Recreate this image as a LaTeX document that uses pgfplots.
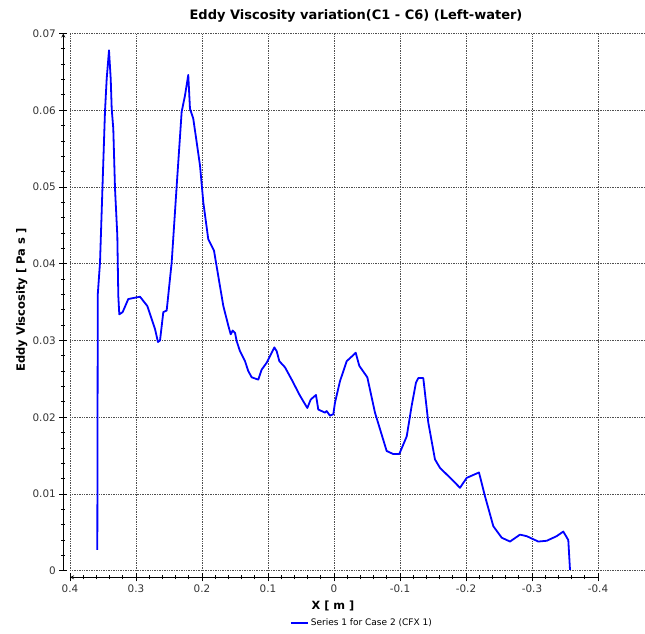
\documentclass[border=0pt]{standalone}
\usepackage{pgfplots}
\pgfplotsset{compat=1.18}
\usepackage{fontspec}
\setmainfont{DejaVu Sans}
\definecolor{ticklab}{HTML}{333333}
\definecolor{gridc}{HTML}{505050}
\pgfplotstableread{
x y
0.3586 0.0027
0.3579 0.0360
0.3545 0.0402
0.3505 0.0507
0.3470 0.0598
0.3444 0.0641
0.3409 0.0678
0.3383 0.0641
0.3368 0.0602
0.3344 0.0576
0.3318 0.0498
0.3283 0.0437
0.3268 0.0358
0.3253 0.0334
0.3202 0.0337
0.3117 0.0354
0.2939 0.0357
0.2829 0.0345
0.2712 0.0315
0.2667 0.0298
0.2636 0.0300
0.2586 0.0337
0.2535 0.0339
0.2459 0.0402
0.2383 0.0502
0.2308 0.0598
0.2258 0.0619
0.2208 0.0646
0.2182 0.0602
0.2132 0.0589
0.2030 0.0528
0.1980 0.0480
0.1905 0.0432
0.1818 0.0417
0.1677 0.0345
0.1600 0.0319
0.1565 0.0308
0.1535 0.0313
0.1500 0.0310
0.1474 0.0299
0.1424 0.0286
0.1348 0.0273
0.1298 0.0260
0.1247 0.0252
0.1147 0.0249
0.1096 0.0262
0.1020 0.0271
0.0944 0.0284
0.0904 0.0291
0.0868 0.0286
0.0828 0.0273
0.0742 0.0265
0.0641 0.0249
0.0515 0.0228
0.0404 0.0212
0.0353 0.0223
0.0273 0.0229
0.0238 0.0210
0.0136 0.0206
0.0111 0.0208
0.0061 0.0202
0.0010 0.0204
-0.0015 0.0219
-0.0091 0.0247
-0.0192 0.0273
-0.0268 0.0279
-0.0329 0.0284
-0.0383 0.0267
-0.0505 0.0252
-0.0621 0.0206
-0.0798 0.0156
-0.0898 0.0152
-0.0989 0.0152
-0.1102 0.0175
-0.1177 0.0215
-0.1242 0.0245
-0.1277 0.0251
-0.1353 0.0251
-0.1429 0.0193
-0.1530 0.0145
-0.1606 0.0134
-0.1808 0.0117
-0.1909 0.0108
-0.2011 0.0121
-0.2197 0.0128
-0.2288 0.0097
-0.2414 0.0058
-0.2541 0.0043
-0.2667 0.0038
-0.2818 0.0047
-0.2920 0.0045
-0.3095 0.0038
-0.3223 0.0039
-0.3374 0.0045
-0.3474 0.0051
-0.3550 0.0040
-0.3576 0.0001
}\series
\pgfplotsset{
  common/.style={
    scale only axis, width=528pt, height=537.2pt,
    xmin=-0.4, xmax=0.4, ymin=0, ymax=0.07,
    x dir=reverse, anchor=south west,
    xtick={-0.4,-0.3,-0.2,-0.1,0,0.1,0.2,0.3,0.4},
    ytick={0,0.01,0.02,0.03,0.04,0.05,0.06,0.07},
    scaled ticks=false,
    /pgf/number format/assume math mode=true,
    tick label style={font=\fontsize{10.4}{11}\selectfont, text=ticklab},
  },
  axisonly/.style={
    common,
    every outer x axis line/.style={-},
    every outer y axis line/.style={-},
    every inner x axis line/.style={-},
    every inner y axis line/.style={-},
    axis line style={-, black, line width=0.8pt},
    x axis line style={-}, y axis line style={-},
    tick align=outside,
    major tick length=8pt, minor tick length=4pt,
    tick style={black, line width=0.8pt},
  },
}
\begin{document}
\begin{tikzpicture}
\useasboundingbox (0,0) rectangle (645pt,633pt);
% data, grid, labels, legend
\begin{axis}[
  common,
  at={(70pt,62.3pt)},
  axis line style={draw=none},
  major tick length=0pt,
  xticklabels={}, yticklabels={},
  xmajorgrids, ymajorgrids,
  major grid style={gridc, line width=0.7pt, densely dotted},
  xlabel={X [ m ]},
  xlabel style={font=\bfseries\fontsize{11.3}{12}\selectfont, at={(axis description cs:0.498,-0.0657)}, anchor=center},
  ylabel={Eddy Viscosity [ Pa s ]},
  ylabel style={font=\bfseries\fontsize{11.5}{12}\selectfont, at={(axis description cs:-0.0915,0.504)}, anchor=center},
  legend style={at={(axis description cs:0.4167,-0.0974)}, anchor=west, draw=none, fill=none,
    font=\fontsize{9}{10}\selectfont, inner sep=0pt, outer sep=0pt},
  legend cell align=left,
  legend image code/.code={\draw[#1] (0pt,0pt) -- (17pt,0pt);},
]
\addplot[blue, line width=1.8pt, line join=round] table[x=x,y=y] {\series};
\addlegendentry{Series 1 for Case 2 (CFX 1)}
\end{axis}
% x axis line, shifted down
\begin{axis}[
  axisonly,
  at={(70pt,55.7pt)},
  axis x line=bottom, axis y line=none,
  xticklabels={-0.4,-0.3,-0.2,-0.1,0,0.1,0.2,0.3,0.4},
  minor xtick={-0.38,-0.36,-0.34,-0.32,-0.28,-0.26,-0.24,-0.22,-0.18,-0.16,-0.14,-0.12,-0.08,-0.06,-0.04,-0.02,0.02,0.04,0.06,0.08,0.12,0.14,0.16,0.18,0.22,0.24,0.26,0.28,0.32,0.34,0.36,0.38},
]
\end{axis}
% y axis line, shifted left
\begin{axis}[
  axisonly,
  at={(63.3pt,62.3pt)},
  axis y line=left, axis x line=none,
  yticklabels={0,0.01,0.02,0.03,0.04,0.05,0.06,0.07},
  minor ytick={0.002,0.004,0.006,0.008,0.012,0.014,0.016,0.018,0.022,0.024,0.026,0.028,0.032,0.034,0.036,0.038,0.042,0.044,0.046,0.048,0.052,0.054,0.056,0.058,0.062,0.064,0.066,0.068},
]
\end{axis}
\foreach \i in {0,...,7} {
  \draw[gridc, line width=0.7pt, densely dotted] (598pt, {62.3pt + \i*76.743pt}) -- (645pt, {62.3pt + \i*76.743pt});
}
\node[font=\bfseries\fontsize{13}{14}\selectfont] at (356pt,617pt) {Eddy Viscosity variation(C1 - C6) (Left-water)};
\end{tikzpicture}
\end{document}
